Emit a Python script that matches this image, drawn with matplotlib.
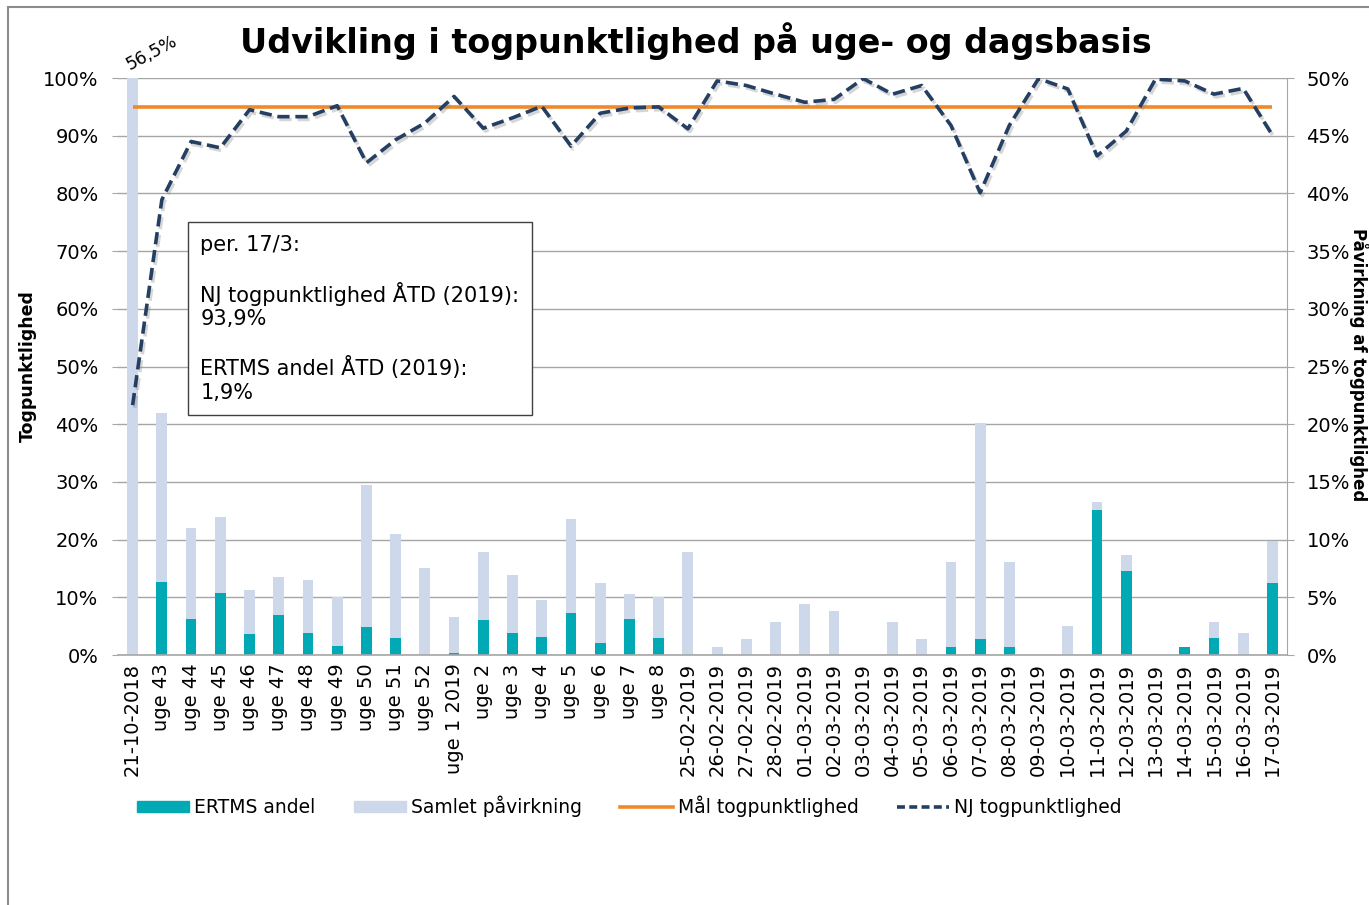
import numpy as np
import matplotlib
matplotlib.use("Agg")
import matplotlib.pyplot as plt
import matplotlib.patheffects as pe
from matplotlib.patches import Rectangle
from matplotlib.lines import Line2D
from matplotlib.ticker import FuncFormatter, MultipleLocator

# --- data -------------------------------------------------------------
categories = (
    ["21-10-2018"]
    + [f"uge {w}" for w in range(43, 53)]
    + ["uge 1 2019"]
    + [f"uge {w}" for w in range(2, 9)]
    + ["25-02-2019", "26-02-2019", "27-02-2019", "28-02-2019"]
    + [f"{d:02d}-03-2019" for d in range(1, 18)]
)

# impact on punctuality, right axis (%)
samlet = [56.5, 21.0, 11.0, 12.0, 5.6, 6.8, 6.5, 5.0, 14.7, 10.5,
          7.5, 3.3, 8.9, 6.9, 4.8, 11.8, 6.2, 5.3, 5.0, 8.9,
          0.7, 1.4, 2.9, 4.4, 3.8, 0.0, 2.9, 1.4, 8.1, 20.1,
          8.1, 0.0, 2.5, 13.3, 8.7, 0.0, 0.7, 2.9, 1.9, 9.9]
ertms = [0.0, 6.3, 3.1, 5.4, 1.8, 3.5, 1.9, 0.8, 2.4, 1.5,
         0.0, 0.15, 3.0, 1.9, 1.6, 3.6, 1.0, 3.1, 1.5, 0.0,
         0.0, 0.0, 0.0, 0.0, 0.0, 0.0, 0.0, 0.0, 0.7, 1.4,
         0.7, 0.0, 0.0, 12.6, 7.3, 0.0, 0.7, 1.5, 0.0, 6.2]

# punctuality, left axis (%)
nj = [43.3, 78.9, 89.0, 87.9, 94.5, 93.3, 93.3, 95.2, 85.3, 89.3,
      92.2, 96.8, 91.3, 93.1, 95.1, 88.2, 93.9, 94.8, 95.0, 91.2,
      99.5, 98.7, 97.2, 95.8, 96.3, 99.9, 97.2, 98.7, 91.8, 80.1,
      91.8, 99.9, 98.1, 86.5, 90.8, 99.8, 99.5, 97.2, 98.2, 90.1]
maal = [95.0] * len(categories)

box_text = ("per. 17/3:\n\nNJ togpunktlighed ÅTD (2019):\n93,9%\n\n"
            "ERTMS andel ÅTD (2019):\n1,9%")

# --- style ------------------------------------------------------------
plt.rcParams["font.family"] = ["DejaVu Sans"]
c_ertms = "#00A9B4"
c_samlet = "#CDD8EA"
c_maal = "#EE8A2A"
c_nj = "#243F62"
c_grid = "#A6A6A6"

pct = FuncFormatter(lambda v, _: f"{v:.0f}%")

fig = plt.figure(figsize=(13.69, 9.05), dpi=100)
ax = fig.add_axes([0.0862, 0.2762, 0.8539, 0.6376])
ax2 = ax.twinx()
ax.set_zorder(ax2.get_zorder() + 1)
ax.patch.set_visible(False)

x = np.arange(len(categories))

# bars on the right axis
ax2.bar(x, samlet, width=0.37, color=c_samlet, zorder=2)
ax2.bar(x, ertms, width=0.37, color=c_ertms, zorder=3)
ax2.set_ylim(0, 50)
ax2.yaxis.set_major_locator(MultipleLocator(5))
ax2.yaxis.set_major_formatter(pct)
ax2.grid(axis="y", color=c_grid, linewidth=1.0)
ax2.set_axisbelow(True)

# lines on the left axis
ax.plot(x, maal, color=c_maal, linewidth=2.6, solid_capstyle="butt")
ax.plot(x, nj, color=c_nj, linewidth=2.6, linestyle=(0, (3.4, 1.6)),
        path_effects=[pe.SimpleLineShadow(offset=(1.5, -2), shadow_color="0.55", alpha=0.35),
                      pe.Normal()])
ax.set_ylim(0, 100)
ax.yaxis.set_major_locator(MultipleLocator(10))
ax.yaxis.set_major_formatter(pct)
ax.set_xlim(-0.5, len(categories) - 0.5)
ax.set_xticks(x)
ax.set_xticklabels(categories, rotation=90, fontsize=14)

for a in (ax, ax2):
    for s in a.spines.values():
        s.set_visible(False)
ax2.spines["right"].set_visible(True)
ax2.spines["right"].set_color(c_grid)
ax.spines["bottom"].set_visible(True)
ax.spines["bottom"].set_color(c_grid)
ax.spines["bottom"].set_linewidth(1.2)

ax.tick_params(axis="x", length=0, pad=6)
ax.tick_params(axis="y", length=4, color=c_grid, labelsize=14, pad=10)
ax2.tick_params(axis="y", length=5, color=c_grid, labelsize=14, pad=9)

ax.set_ylabel("Togpunktlighed", fontsize=12.5, fontweight="bold")
ax.yaxis.set_label_coords(-0.069, 0.5)
fig.text(0.9925, 0.597, "Påvirkning af togpunktlighed", rotation=270,
         fontsize=12, fontweight="bold", ha="center", va="center")

# label for the clipped first bar
ax2.annotate("56,5%", xy=(x[0], 50), xytext=(-7, 3), textcoords="offset points",
             rotation=28, fontsize=12.5, ha="left", va="bottom",
             annotation_clip=False)

# info box
ax.text(0.0705, 0.728, box_text, transform=ax.transAxes, fontsize=15,
        va="top", ha="left", linespacing=1.2, zorder=10,
        bbox=dict(boxstyle="square,pad=0.6", facecolor="white",
                  edgecolor="#404040", linewidth=1.0))

fig.suptitle("Udvikling i togpunktlighed på uge- og dagsbasis", x=0.508, y=0.975,
             fontsize=24, fontweight="bold")

handles = [
    Rectangle((0, 0), 1, 1, color=c_ertms),
    Rectangle((0, 0), 1, 1, color=c_samlet),
    Line2D([], [], color=c_maal, linewidth=2.6),
    Line2D([], [], color=c_nj, linewidth=2.6, linestyle=(0, (2.2, 1.2))),
]
labels = ["ERTMS andel", "Samlet påvirkning", "Mål togpunktlighed", "NJ togpunktlighed"]
fig.legend(handles, labels, loc="center left", bbox_to_anchor=(0.1, 0.109),
           ncol=4, frameon=False, fontsize=13.5, handlelength=2.8, handleheight=0.55,
           handletextpad=0.25, columnspacing=2.05, borderpad=0, borderaxespad=0)

# outer chart frame (cropped at right and bottom)
fig.patches.append(Rectangle((8 / 1369, -0.1), 1.2, 1.1 - 7 / 905,
                             transform=fig.transFigure, fill=False,
                             edgecolor="#8C8C8C", linewidth=1.5))

fig.savefig("out.png", dpi=100)
